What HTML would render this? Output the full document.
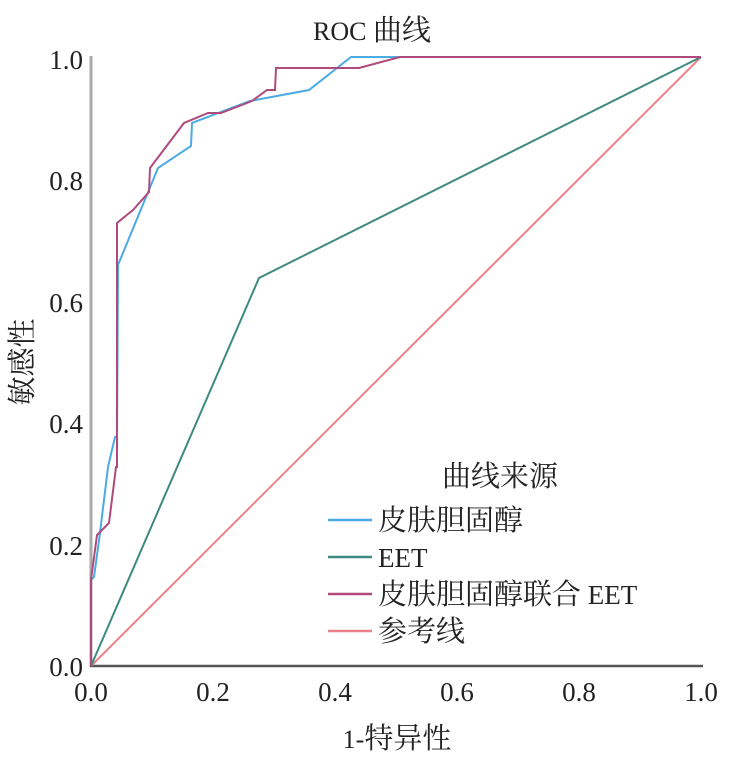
<!DOCTYPE html>
<html><head><meta charset="utf-8"><style>body{margin:0;background:#fff}svg{display:block}.c{font-size:29px}</style></head><body>
<svg width="746" height="758" xmlns="http://www.w3.org/2000/svg" font-family="'Liberation Serif','Noto Serif CJK SC',serif" fill="#222">
<text x="372" y="40" font-size="26" text-anchor="middle">ROC <tspan class="c">曲线</tspan></text>
<line x1="91" y1="56" x2="91" y2="667" stroke="#aaa" stroke-width="3"/>
<line x1="90" y1="666" x2="703" y2="666" stroke="#555" stroke-width="2.5"/>
<g font-size="27" text-anchor="end">
<text x="83" y="676">0.0</text><text x="83" y="555">0.2</text><text x="83" y="433">0.4</text><text x="83" y="312">0.6</text><text x="83" y="190">0.8</text><text x="83" y="69">1.0</text>
</g>
<g font-size="27" text-anchor="middle">
<text x="91" y="701">0.0</text><text x="213" y="701">0.2</text><text x="335" y="701">0.4</text><text x="457" y="701">0.6</text><text x="579" y="701">0.8</text><text x="701" y="701">1.0</text>
</g>
<text x="397" y="748" font-size="26" text-anchor="middle">1-<tspan class="c">特异性</tspan></text>
<text transform="translate(32,362) rotate(-90)" class="c" text-anchor="middle">敏感性</text>
<g fill="none" stroke-width="2">
<line x1="91" y1="666" x2="701" y2="57" stroke="#ec8288"/>
<polyline stroke="#3d8a80" points="91,666 259,278 701,57"/>
<polyline stroke="#4aaae3" points="91,666 91,580 94,577 100,533 108,467 115,437 117,437 118,265 158,168 191,146 192,123 250,101 309,90 351,57 701,57"/>
<polyline stroke="#b04a7c" points="91,666 91,580 97,535 109,523 116,467 117,467 117,223 133,210 149,192 150,168 184,123 208,113 221,113 252,101 267,90 275,90 276,68 359,68 400,57 701,57"/>
</g>
<text x="500" y="486" class="c" text-anchor="middle">曲线来源</text>
<g stroke-width="2.5">
<line x1="328" y1="520" x2="372" y2="520" stroke="#4aaae3"/>
<line x1="328" y1="557" x2="372" y2="557" stroke="#3d8a80"/>
<line x1="328" y1="594" x2="372" y2="594" stroke="#b04a7c"/>
<line x1="328" y1="631" x2="372" y2="631" stroke="#ec8288"/>
</g>
<g font-size="27">
<text x="378" y="530" class="c">皮肤胆固醇</text>
<text x="378" y="567">EET</text>
<text x="378" y="604"><tspan class="c">皮肤胆固醇联合</tspan> EET</text>
<text x="378" y="641" class="c">参考线</text>
</g>
</svg>
</body></html>
